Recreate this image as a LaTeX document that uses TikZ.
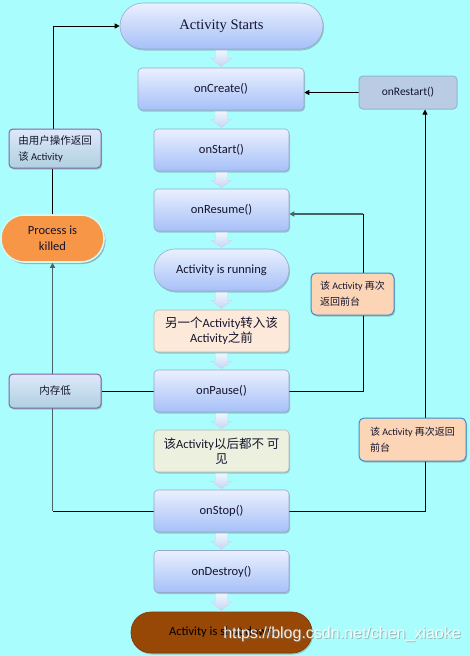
\documentclass[tikz,border=0pt]{standalone}
\usepackage{fontspec}
\setmainfont{Carlito}
\newfontfamily\cjk{Noto Sans CJK SC}
\newfontfamily\serifA{Liberation Serif}
\newfontfamily\wmfont{Liberation Sans}
\usetikzlibrary{calc,arrows.meta,shadows}

\definecolor{bg}{RGB}{170,253,253}
\definecolor{boxtop}{RGB}{234,240,254}
\definecolor{boxbot}{RGB}{166,192,248}
\definecolor{boxedge}{RGB}{150,170,205}
\definecolor{peach}{RGB}{253,233,217}
\definecolor{pale}{RGB}{235,241,222}
\definecolor{plainedge}{RGB}{175,185,185}
\definecolor{restartfill}{RGB}{185,204,228}
\definecolor{restartedge}{RGB}{149,179,215}
\definecolor{notetop}{RGB}{222,232,250}
\definecolor{notebot}{RGB}{176,208,224}
\definecolor{noteedge}{RGB}{128,100,162}
\definecolor{orange}{RGB}{247,150,70}
\definecolor{glow}{RGB}{205,250,250}
\definecolor{backfill}{RGB}{251,213,181}
\definecolor{backedge}{RGB}{60,140,205}
\definecolor{brown}{RGB}{151,72,6}
\definecolor{arrtop}{RGB}{240,245,253}
\definecolor{arrbot}{RGB}{196,214,244}
\definecolor{arredge}{RGB}{200,215,235}
\definecolor{txt}{RGB}{20,20,45}
\definecolor{darkline}{RGB}{70,100,100}

\pgfdeclarelayer{bgfill}
\pgfdeclarelayer{lines}
\pgfsetlayers{bgfill,lines,main}

\newcommand\fatarr[2]{%
  \shade[top color=arrtop,bottom color=arrbot,draw=arredge,line width=0.4pt]
    ($(#1.south)+(-6,1)$) -- ($(#1.south)+(6,1)$) -- ($(#1.south)+(6,9)$)
    -- ($(#1.south)+(10,9)$) -- ($(#2.north)+(0,-1)$) -- ($(#1.south)+(-10,9)$)
    -- ($(#1.south)+(-6,9)$) -- cycle;}

\begin{document}
\begin{tikzpicture}[x=1pt,y=-1pt,
  shadowed/.style={drop shadow={shadow xshift=1pt,shadow yshift=-1.5pt,opacity=0.3,fill=black!70}},
  boxbase/.style={rectangle,rounded corners=4pt,minimum width=135pt,minimum height=42pt,
    inner sep=2pt,align=center,text=txt,font=\fontsize{12.5}{15}\selectfont,shadowed},
  mainbox/.style={boxbase,top color=boxtop,bottom color=boxbot,draw=boxedge,line width=0.6pt},
  plainbox/.style={boxbase,fill=#1,draw=plainedge,line width=0.6pt},
  restartbox/.style={rectangle,rounded corners=4pt,minimum width=98pt,minimum height=33pt,
    fill=restartfill,draw=restartedge,line width=1pt,text=txt,font=\fontsize{11.5}{14}\selectfont},
  notebox/.style={rectangle,rounded corners=4pt,minimum width=92pt,minimum height=39pt,
    top color=notetop,bottom color=notebot,draw=noteedge,line width=1pt,align=left,
    text=txt,font=\fontsize{10.5}{16}\selectfont,shadowed},
  killbox/.style={rectangle,rounded corners=23pt,minimum width=103pt,minimum height=47pt,
    fill=orange,draw=glow,line width=1.6pt,align=center,text=txt,
    font=\fontsize{12.5}{16}\selectfont,
    drop shadow={shadow xshift=1.5pt,shadow yshift=-2pt,opacity=0.45,fill=black!60}},
  backbox/.style={rectangle,rounded corners=5pt,fill=backfill,draw=backedge,line width=1pt,
    align=left,text=txt,font=\fontsize{10}{16}\selectfont,shadowed},
  conn/.style={draw=black,line width=0.9pt},
  darkconn/.style={draw=darkline,line width=1.4pt},
  tip/.style={-{Triangle[length=5pt,width=5pt]}}
]
\begin{pgfonlayer}{bgfill}
\fill[bg] (0,0) rectangle (470,656);
\end{pgfonlayer}
\useasboundingbox (0,0) rectangle (470,656);

% central column
\node[mainbox,rounded corners=23pt,minimum width=203pt,minimum height=46pt,
  font=\serifA\fontsize{14.5}{17}\selectfont] (start) at (221.5,26) {Activity Starts};
\node[mainbox,minimum width=166pt] (create) at (221,89) {onCreate()};
\node[mainbox] (onstart) at (221.5,150) {onStart()};
\node[mainbox] (resume) at (221.5,210) {onResume()};
\node[mainbox,rounded corners=21pt] (running) at (221.5,270) {Activity is running};
\node[plainbox=peach] (before) at (221.5,331)
  {{\cjk 另一个}Activity{\cjk 转入该}\\Activity{\cjk 之前}};
\node[mainbox] (pause) at (221.5,391) {onPause()};
\node[plainbox=pale] (invis) at (221.5,451)
  {{\cjk 该}Activity{\cjk 以后都不\ 可}\\{\cjk 见}};
\node[mainbox] (stop) at (221.5,511) {onStop()};
\node[mainbox] (destroy) at (221.5,571.5) {onDestroy()};
\node[boxbase,rounded corners=20pt,minimum width=181pt,minimum height=41pt,fill=brown,
  draw=brown!80!black,line width=0.6pt,text=black] (shut) at (221.5,632.5) {Activity is shut down};

% block arrows
\fatarr{start}{create}
\fatarr{create}{onstart}
\fatarr{onstart}{resume}
\fatarr{resume}{running}
\fatarr{running}{before}
\fatarr{before}{pause}
\fatarr{pause}{invis}
\fatarr{invis}{stop}
\fatarr{stop}{destroy}
\fatarr{destroy}{shut}

% side nodes
\node[restartbox] (restart) at (408,92.5) {onRestart()};
\node[killbox] (killed) at (52.5,238.5) {Process is\\killed};
\node[notebox] (user) at (55,148.5) {{\cjk 由用户操作返回}\\{\cjk 该} Activity};
\node[notebox,minimum height=34pt,align=center] (mem) at (55,391) {{\cjk 内存低}};
\node[backbox,minimum width=83pt,minimum height=42pt] (back1) at (352.5,294)
  {{\cjk 该} Activity {\cjk 再次}\\{\cjk 返回前台}};
\node[backbox,minimum width=107pt,minimum height=43pt] (back2) at (412.5,439.5)
  {{\cjk 该} Activity {\cjk 再次返回}\\{\cjk 前台}};

% connectors (behind the nodes)
\coordinate (rxa) at (363,0);
\coordinate (rxb) at (425,0);
\begin{pgfonlayer}{lines}
\draw[conn,tip] ([xshift=-2pt]user.north) |- (start.west);
\draw[conn] (user.south -| killed.north) -- (killed.north);
\draw[conn] (stop.west) -- (stop.west -| killed.south);
\draw[darkconn,tip] (stop.west -| killed.south) -- (killed.south);
\draw[conn] (pause.west) -- (mem.east);
\draw[conn] (pause.east) -- (pause.east -| rxa) -- ([yshift=-4pt]resume.east -| rxa);
\draw[darkconn,tip] ([yshift=-4pt]resume.east -| rxa) -- ([yshift=-4pt]resume.east);
\draw[conn,tip] (stop.east) -| (restart.south -| rxb);
\draw[conn,tip] (restart.west) -- (restart.west -| create.east);
\end{pgfonlayer}

% watermark
\node[font=\wmfont\fontsize{16}{19}\selectfont,text=gray,opacity=0.5] (wmshadow) at (343,635)
  {https://blog.csdn.net/chen\_xiaoke};
\node[font=\wmfont\fontsize{16}{19}\selectfont,text=white,opacity=0.9] (wm) at (342,634)
  {https://blog.csdn.net/chen\_xiaoke};
\end{tikzpicture}
\end{document}
